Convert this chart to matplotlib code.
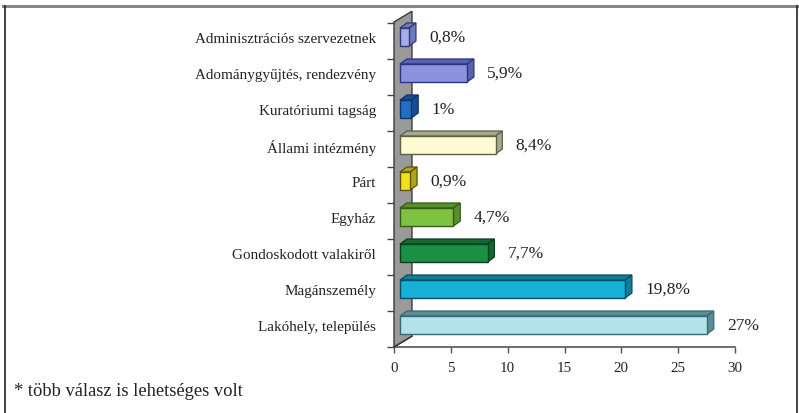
import matplotlib
matplotlib.use("Agg")
import matplotlib.pyplot as plt
from matplotlib.patches import Polygon, Rectangle
from matplotlib.lines import Line2D

plt.rcParams['font.family'] = ['Liberation Serif', 'DejaVu Serif']

# data (top to bottom)
categories = ["Adminisztrációs szervezetnek", "Adománygyűjtés, rendezvény",
              "Kuratóriumi tagság", "Állami intézmény", "Párt", "Egyház",
              "Gondoskodott valakiről", "Magánszemély", "Lakóhely, település"]
values = [0.8, 5.9, 1.0, 8.4, 0.9, 4.7, 7.7, 19.8, 27.0]
value_labels = ["0,8%", "5,9%", "1%", "8,4%", "0,9%", "4,7%", "7,7%", "19,8%", "27%"]
colors = ["#a3aee6", "#8c93dc", "#1f6fc4", "#fcfbd2", "#f2e21e", "#7fc242",
          "#1b8f46", "#14b0d6", "#b3e2ea"]
edges = ["#2e3a78", "#2a3580", "#10346c", "#5e5e4a", "#5b5408", "#335c14",
         "#0a401c", "#084e62", "#346a72"]
top_colors = ["#6f7ab8", "#5a62b0", "#164f90", "#a8a88c", "#b0a418", "#5a8f2e",
              "#136834", "#0e7e9a", "#5b8e94"]
xticks = [0, 5, 10, 15, 20, 25, 30]

fig = plt.figure(figsize=(7.99, 4.14), dpi=100)
ax = fig.add_axes([394/799, 66/414, 341/799, 334/414])

ybot, ytop = 8.61, -0.667
ax.set_xlim(0, 30)
ax.set_ylim(ybot, ytop)

# back wall
wdx, wdy = 1.58, 0.30
wall = Polygon([(0, ybot), (0, ytop + 0.25), (wdx, ytop + 0.25 - wdy), (wdx, ybot - wdy)],
               closed=True, facecolor="#9a9a9a", edgecolor="#3a3a3a", lw=1.0,
               clip_on=False, zorder=1)
ax.add_patch(wall)
ax.plot([0, 30], [ybot, ybot], color="#555555", lw=1.2, clip_on=False, zorder=2)
ax.plot([0, wdx], [ybot, ybot - wdy], color="#3a3a3a", lw=1.0, clip_on=False, zorder=2)

# 3d bars
x0, h, dx, dy = 0.53, 0.5, 0.6, 0.14
for i, (v, c, e, tc) in enumerate(zip(values, colors, edges, top_colors)):
    y1, y2 = i - h/2, i + h/2
    top = Polygon([(x0, y1), (x0 + v, y1), (x0 + v + dx, y1 - dy), (x0 + dx, y1 - dy)],
                  closed=True, facecolor=tc, edgecolor=e, lw=0.9, zorder=3, clip_on=False)
    side = Polygon([(x0 + v, y1), (x0 + v, y2), (x0 + v + dx, y2 - dy), (x0 + v + dx, y1 - dy)],
                   closed=True, facecolor=tc, edgecolor=e, lw=0.9, zorder=3, clip_on=False)
    front = Rectangle((x0, y1), v, h, facecolor=c, edgecolor=e, lw=1.0, zorder=4, clip_on=False)
    ax.add_patch(top)
    ax.add_patch(side)
    ax.add_patch(front)
    ax.text(v + 2.3, i, value_labels[i], ha="left", va="center", fontsize=12.5,
            color="#222222")

for s in ax.spines.values():
    s.set_visible(False)

ax.set_yticks(range(len(categories)))
ax.set_yticklabels(categories, fontsize=10.9, color="#222222")
ax.set_yticks([i + 0.6 for i in range(-1, len(categories))], minor=True)
ax.tick_params(axis="y", which="major", length=0, pad=13)
ax.tick_params(axis="y", which="minor", length=5, width=1, color="#444444")
ax.set_xticks(xticks)
ax.set_xticklabels([str(t) for t in xticks], fontsize=10.8, color="#222222")
ax.tick_params(axis="x", length=4, width=1, color="#555555", pad=6)

# frame around figure
fig.add_artist(Line2D([3/799, 1], [1 - 7/414, 1 - 7/414], color="#888888", lw=2.2))
fig.add_artist(Line2D([4.5/799, 4.5/799], [0, 1 - 7/414], color="#222222", lw=1.2))
fig.add_artist(Line2D([796.5/799, 796.5/799], [0, 1 - 7/414], color="#222222", lw=1.2))

fig.text(14/799, 1 - 392/414, "* több válasz is lehetséges volt", ha="left", va="center",
         fontsize=13.3, color="#222222")

fig.savefig("out.png", dpi=100)
